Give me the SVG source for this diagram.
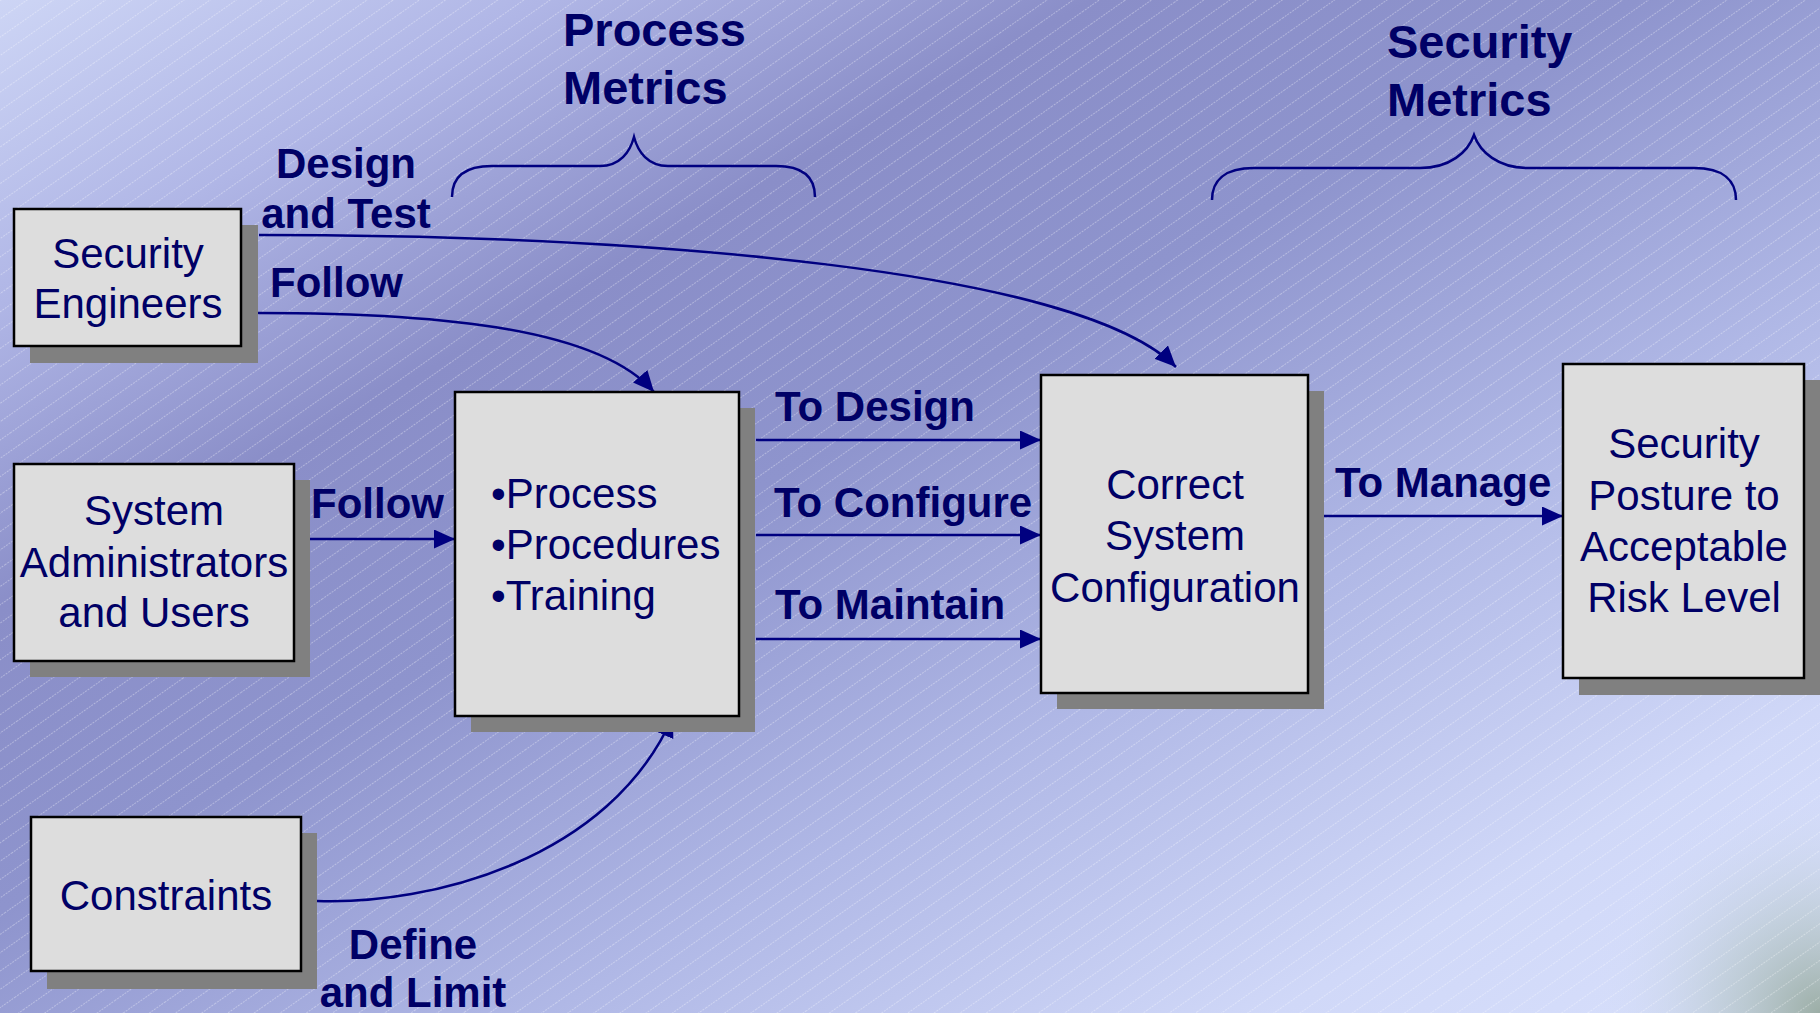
<svg xmlns="http://www.w3.org/2000/svg" width="1820" height="1013" viewBox="0 0 1820 1013">
  <defs>
    <linearGradient id="bg" x1="0" y1="0" x2="1" y2="1">
      <stop offset="0" stop-color="#cdd5f5"/>
      <stop offset="0.15" stop-color="#b0b6e6"/>
      <stop offset="0.3" stop-color="#8a8ec8"/>
      <stop offset="0.45" stop-color="#8e94cd"/>
      <stop offset="0.65" stop-color="#b0b8e6"/>
      <stop offset="0.85" stop-color="#d0d8f8"/>
      <stop offset="1" stop-color="#d8e0fc"/>
    </linearGradient>
    <radialGradient id="corner" cx="1820" cy="1013" r="230" gradientUnits="userSpaceOnUse">
      <stop offset="0" stop-color="#9caea6" stop-opacity="1"/>
      <stop offset="0.45" stop-color="#b8c8cc" stop-opacity="0.6"/>
      <stop offset="1" stop-color="#d8e0fc" stop-opacity="0"/>
    </radialGradient>
    <pattern id="hatch" width="40" height="15" patternUnits="userSpaceOnUse" patternTransform="rotate(-35)">
      <line x1="0" y1="0.5" x2="40" y2="0.5" stroke="#ffffff" stroke-width="1" stroke-opacity="0.32" stroke-dasharray="2 1"/>
    </pattern>
    <marker id="arrow" viewBox="0 0 21 19" refX="21" refY="9.5" markerWidth="21" markerHeight="19" markerUnits="userSpaceOnUse" orient="auto">
      <path d="M0,0 L21,9.5 L0,19 z" fill="#000080"/>
    </marker>
    <style>
      .shadow { fill: #808080; }
      .box { fill: #dddddd; stroke: #000000; stroke-width: 2.5; }
      .node { font-family: "Liberation Sans", Arial, sans-serif; font-size: 42px; fill: #000066; text-anchor: middle; }
      .bullets { font-family: "Liberation Sans", Arial, sans-serif; font-size: 42px; fill: #000066; }
      .label { font-family: "Liberation Sans", Arial, sans-serif; font-size: 42px; font-weight: bold; fill: #000066; }
      .title { font-family: "Liberation Sans", Arial, sans-serif; font-size: 47px; font-weight: bold; fill: #000066; }
      .conn { fill: none; stroke: #000080; stroke-width: 2.5; }
      .brace { fill: none; stroke: #000080; stroke-width: 2.5; }
    </style>
  </defs>

  <!-- backdrop -->
  <rect x="0" y="0" width="1820" height="1013" fill="url(#bg)"/>
  <rect x="0" y="0" width="1820" height="1013" fill="url(#corner)"/>
  <rect x="0" y="0" width="1820" height="1013" fill="url(#hatch)"/>

  <!-- metric headings with braces -->
  <g id="process-metrics">
    <text class="title" x="563" y="46">Process</text>
    <text class="title" x="563" y="104">Metrics</text>
    <path class="brace" d="M452,197 C452,178 464,166 492,166 L600,166 C620,166 630,152 634,137 C638,152 648,166 668,166 L776,166 C804,166 815,178 815,197"/>
  </g>
  <g id="security-metrics">
    <text class="title" x="1387" y="58">Security</text>
    <text class="title" x="1387" y="116">Metrics</text>
    <path class="brace" d="M1212,200 C1212,181 1224,168 1254,168 L1420,168 C1450,168 1468,152 1474,135 C1480,152 1498,168 1528,168 L1694,168 C1724,168 1736,181 1736,200"/>
  </g>

  <!-- connectors and their labels -->
  <g id="connectors">
    <path class="conn" d="M259,235 C650,235 1080,270 1176,367" marker-end="url(#arrow)"/>
    <path class="conn" d="M258,313 C450,313 600,330 654,392" marker-end="url(#arrow)"/>
    <path class="conn" d="M310,539 L455,539" marker-end="url(#arrow)"/>
    <path class="conn" d="M317,901 C430,905 610,860 673,716" marker-end="url(#arrow)"/>
    <path class="conn" d="M756,440 L1041,440" marker-end="url(#arrow)"/>
    <path class="conn" d="M756,535 L1041,535" marker-end="url(#arrow)"/>
    <path class="conn" d="M756,639 L1041,639" marker-end="url(#arrow)"/>
    <path class="conn" d="M1324,516 L1563,516" marker-end="url(#arrow)"/>

    <text class="label" x="346" y="178" text-anchor="middle">Design</text>
    <text class="label" x="346" y="228" text-anchor="middle">and Test</text>
    <text class="label" x="270" y="297">Follow</text>
    <text class="label" x="311" y="518">Follow</text>
    <text class="label" x="413" y="959" text-anchor="middle">Define</text>
    <text class="label" x="413" y="1007" text-anchor="middle">and Limit</text>
    <text class="label" x="775" y="421">To Design</text>
    <text class="label" x="774" y="517">To Configure</text>
    <text class="label" x="775" y="619">To Maintain</text>
    <text class="label" x="1335" y="497">To Manage</text>
  </g>

  <!-- nodes -->
  <g id="security-engineers">
    <rect class="shadow" x="30" y="225" width="228" height="138"/>
    <rect class="box" x="14" y="209" width="227" height="137"/>
    <text class="node" x="128" y="268">Security</text>
    <text class="node" x="128" y="318">Engineers</text>
  </g>

  <g id="system-administrators">
    <rect class="shadow" x="30" y="480" width="280" height="197"/>
    <rect class="box" x="14" y="464" width="280" height="197"/>
    <text class="node" x="154" y="525">System</text>
    <text class="node" x="154" y="577">Administrators</text>
    <text class="node" x="154" y="627">and Users</text>
  </g>

  <g id="constraints">
    <rect class="shadow" x="47" y="833" width="270" height="156"/>
    <rect class="box" x="31" y="817" width="270" height="154"/>
    <text class="node" x="166" y="910">Constraints</text>
  </g>

  <g id="process-procedures-training">
    <rect class="shadow" x="471" y="408" width="284" height="324"/>
    <rect class="box" x="455" y="392" width="284" height="324"/>
    <text class="bullets" x="491" y="508">•Process</text>
    <text class="bullets" x="491" y="559">•Procedures</text>
    <text class="bullets" x="491" y="610">•Training</text>
  </g>

  <g id="correct-system-configuration">
    <rect class="shadow" x="1057" y="391" width="267" height="318"/>
    <rect class="box" x="1041" y="375" width="267" height="318"/>
    <text class="node" x="1175" y="499">Correct</text>
    <text class="node" x="1175" y="550">System</text>
    <text class="node" x="1175" y="602">Configuration</text>
  </g>

  <g id="security-posture">
    <rect class="shadow" x="1579" y="380" width="241" height="315"/>
    <rect class="box" x="1563" y="364" width="241" height="314"/>
    <text class="node" x="1684" y="458">Security</text>
    <text class="node" x="1684" y="510">Posture to</text>
    <text class="node" x="1684" y="561">Acceptable</text>
    <text class="node" x="1684" y="612">Risk Level</text>
  </g>
</svg>
